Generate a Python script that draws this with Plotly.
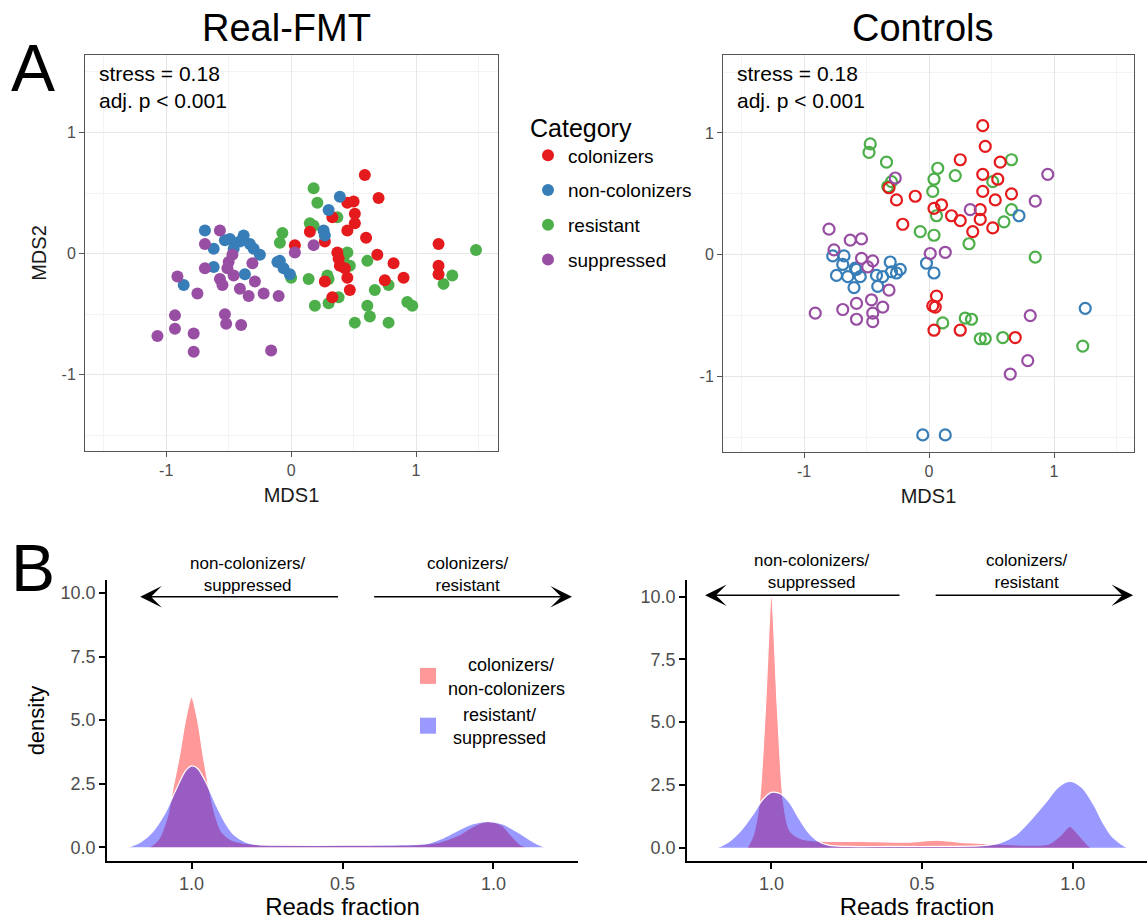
import plotly.graph_objects as go

# ---------------- DATA ----------------
categories = ["colonizers", "non-colonizers", "resistant", "suppressed"]
cat_colors = {"colonizers": "#E41A1C", "non-colonizers": "#377EB8",
              "resistant": "#4DAF4A", "suppressed": "#984EA3"}

# Real-FMT NMDS coordinates
fmt_col_x = [0.59, 0.70, 0.45, 0.50, 0.51, 0.51, 0.45, 0.33, 0.15, 0.03, 0.60, 0.37, 0.38, 0.39,
             0.69, 0.82, 0.45, 0.47, 0.27, 0.33, 0.75, 0.90, 1.18, 1.18, 1.18, 0.27, 0.43]
fmt_col_y = [0.65, 0.46, 0.42, 0.43, 0.33, 0.25, 0.19, 0.30, 0.18, 0.07, 0.13, 0.01, -0.04, -0.10,
             -0.01, -0.08, -0.20, -0.30, -0.23, -0.36, -0.22, -0.20, 0.08, -0.10, -0.17, 0.10, -0.12]
fmt_non_x = [-0.69, -0.86, -0.62, -0.62, -0.49, -0.41, -0.33, -0.25, -0.37, -0.09, -0.06, -0.01,
             0.27, 0.26, 0.30, 0.39, -0.46, -0.53, -0.30, -0.11, -0.38]
fmt_non_y = [0.19, -0.26, 0.04, -0.11, 0.12, 0.10, 0.08, -0.01, -0.17, -0.06, -0.12, -0.17,
             0.15, 0.19, 0.36, 0.47, 0.04, 0.11, 0.04, -0.07, 0.15]
fmt_res_x = [0.18, 0.21, 0.15, 0.18, -0.07, -0.09, 0.00, 0.14, 0.29, 0.30, 0.19, 0.30, 0.38, 0.45,
             0.47, 0.61, 0.67, 0.78, 0.61, 0.63, 0.51, 0.78, 0.93, 0.97, 1.29, 1.22, 1.48, 0.37, 0.42]
fmt_res_y = [0.54, 0.42, 0.25, 0.23, 0.17, 0.09, -0.20, -0.21, -0.18, -0.21, -0.43, -0.41, -0.36, 0.01,
             -0.10, -0.06, -0.30, -0.26, -0.43, -0.52, -0.57, -0.57, -0.40, -0.43, -0.18, -0.25, 0.03, 0.30, -0.03]
fmt_sup_x = [-1.07, -0.93, -0.93, -0.78, -0.78, -0.91, -0.75, -0.53, -0.52, -0.40, -0.16, -0.69, -0.57,
             -0.69, -0.57, -0.55, -0.51, -0.47, -0.46, -0.41, -0.34, -0.29, -0.22, -0.10, -0.31, 0.03, 0.18, -0.50]
fmt_sup_y = [-0.68, -0.51, -0.62, -0.66, -0.81, -0.19, -0.33, -0.50, -0.58, -0.59, -0.80, 0.08, 0.19,
             -0.12, -0.21, -0.26, -0.12, -0.01, -0.18, -0.29, -0.35, -0.23, -0.33, -0.35, -0.08, 0.01, 0.07, -0.07]

# Controls NMDS coordinates
ctl_col_x = [0.43, 0.45, 0.25, 0.57, 0.55, 0.43, 0.43, 0.53, 0.66, 0.41, 0.41, 0.35, 0.51, 0.25,
             0.18, 0.10, 0.04, -0.11, -0.21, -0.26, -0.32, 0.05, 0.06, 0.03, 0.04, 0.25, 0.69]
ctl_col_y = [1.06, 0.89, 0.78, 0.76, 0.62, 0.66, 0.52, 0.45, 0.50, 0.37, 0.29, 0.19, 0.22, 0.28,
             0.32, 0.41, 0.38, 0.48, 0.25, 0.45, 0.55, -0.43, -0.34, -0.42, -0.62, -0.62, -0.68]
ctl_non_x = [-0.77, -0.68, -0.74, -0.69, -0.65, -0.59, -0.58, -0.55, -0.60, -0.41, -0.42, -0.37,
             -0.31, -0.30, -0.26, -0.23, -0.02, 0.04, 0.72, 1.25, -0.05, 0.13]
ctl_non_y = [-0.01, -0.01, -0.17, -0.08, -0.18, -0.11, -0.12, -0.18, -0.27, -0.26, -0.17, -0.18,
             -0.06, -0.14, -0.15, -0.12, -0.07, -0.15, 0.32, -0.44, -1.48, -1.48]
ctl_res_x = [-0.47, -0.48, -0.34, -0.30, -0.33, 0.07, 0.04, 0.03, 0.21, 0.06, -0.07, 0.04, 0.32,
             0.66, 0.51, 0.66, 0.60, 0.85, 0.11, 0.29, 0.34, 0.41, 0.45, 0.59, 1.23]
ctl_res_y = [0.91, 0.84, 0.76, 0.60, 0.56, 0.71, 0.62, 0.52, 0.65, 0.32, 0.19, 0.16, 0.09,
             0.78, 0.60, 0.37, 0.27, -0.02, -0.56, -0.52, -0.53, -0.69, -0.69, -0.68, -0.75]
ctl_sup_x = [-0.80, -0.63, -0.54, -0.76, -0.54, -0.45, -0.49, -0.32, -0.91, -0.69, -0.58, -0.46,
             -0.37, -0.45, -0.58, -0.45, -0.27, 0.01, 0.13, 0.33, 0.95, 0.85, 0.81, 0.79, 0.65]
ctl_sup_y = [0.21, 0.12, 0.13, 0.04, -0.03, -0.05, -0.10, -0.29, -0.48, -0.45, -0.40, -0.37,
             -0.43, -0.48, -0.53, -0.55, 0.63, 0.01, 0.02, 0.37, 0.66, 0.44, -0.50, -0.87, -0.98]

# Density of reads fraction
fmt_cn_x = [-0.14, -0.11, -0.08, -0.06, -0.04, -0.02, 0.00, 0.02, 0.04, 0.06, 0.08, 0.10, 0.13, 0.18,
            0.25, 0.40, 0.60, 0.75, 0.82, 0.88, 0.93, 0.97, 1.00, 1.03, 1.06, 1.09, 1.11]
fmt_cn_d = [0.0, 0.3, 1.2, 2.4, 3.6, 5.0, 5.9, 5.0, 3.5, 2.2, 1.2, 0.6, 0.3, 0.15,
            0.1, 0.1, 0.1, 0.1, 0.2, 0.45, 0.8, 1.0, 1.0, 0.85, 0.45, 0.1, 0.0]
fmt_rs_x = [-0.21, -0.17, -0.13, -0.09, -0.05, -0.02, 0.00, 0.02, 0.05, 0.08, 0.11, 0.14, 0.18, 0.22,
            0.30, 0.50, 0.70, 0.78, 0.83, 0.88, 0.93, 0.98, 1.03, 1.08, 1.12, 1.15, 1.17]
fmt_rs_d = [0.0, 0.2, 0.6, 1.3, 2.3, 3.0, 3.2, 3.1, 2.5, 1.7, 1.0, 0.5, 0.2, 0.1,
            0.08, 0.08, 0.1, 0.15, 0.35, 0.65, 0.92, 1.02, 0.92, 0.6, 0.3, 0.1, 0.0]
ctl_cn_x = [-0.08, -0.06, -0.04, -0.02, 0.00, 0.02, 0.04, 0.06, 0.09, 0.12, 0.20, 0.30, 0.45, 0.55,
            0.62, 0.75, 0.85, 0.92, 0.96, 0.99, 1.02, 1.05, 1.06]
ctl_cn_d = [0.0, 0.5, 1.8, 5.5, 10.0, 5.5, 1.8, 0.7, 0.4, 0.3, 0.25, 0.25, 0.22, 0.3,
            0.22, 0.15, 0.1, 0.15, 0.5, 0.85, 0.5, 0.1, 0.0]
ctl_rs_x = [-0.18, -0.14, -0.10, -0.06, -0.03, 0.00, 0.03, 0.06, 0.09, 0.12, 0.15, 0.19, 0.25, 0.40,
            0.60, 0.70, 0.76, 0.81, 0.86, 0.91, 0.95, 0.99, 1.03, 1.07, 1.10, 1.13, 1.16, 1.18]
ctl_rs_d = [0.0, 0.25, 0.7, 1.35, 1.9, 2.2, 2.15, 1.8, 1.2, 0.65, 0.3, 0.1, 0.05, 0.05,
            0.05, 0.08, 0.2, 0.5, 1.1, 1.8, 2.4, 2.65, 2.4, 1.7, 1.0, 0.45, 0.15, 0.0]

density_groups = ["colonizers/<br>non-colonizers", "resistant/<br>suppressed"]
density_legend = ["&nbsp;&nbsp;&nbsp;&nbsp;colonizers/<br>non-colonizers",
                  "&nbsp;&nbsp;&nbsp;resistant/<br>&nbsp;suppressed"]
density_fill = ["rgba(255,0,0,0.4)", "rgba(0,0,255,0.4)"]
frac_tickvals = [0, 0.5, 1]
frac_ticktext = ["1.0", "0.5", "1.0"]
dens_tickvals = [0, 2.5, 5, 7.5, 10]
dens_ticktext = ["0.0", "2.5", "5.0", "7.5", "10.0"]

FONT = "Liberation Sans, Arial, sans-serif"
W, H = 1147, 920

fig = go.Figure()

fmt = {"colonizers": (fmt_col_x, fmt_col_y), "non-colonizers": (fmt_non_x, fmt_non_y),
       "resistant": (fmt_res_x, fmt_res_y), "suppressed": (fmt_sup_x, fmt_sup_y)}
ctl = {"colonizers": (ctl_col_x, ctl_col_y), "non-colonizers": (ctl_non_x, ctl_non_y),
       "resistant": (ctl_res_x, ctl_res_y), "suppressed": (ctl_sup_x, ctl_sup_y)}

draw_order = ["resistant", "colonizers", "non-colonizers", "suppressed"]
for c in draw_order:
    x, y = fmt[c]
    fig.add_trace(go.Scatter(x=x, y=y, mode="markers", name=c, legendgroup=c,
                             legendrank=categories.index(c) + 1,
                             marker=dict(size=12, color=cat_colors[c], line=dict(width=0)),
                             xaxis="x", yaxis="y", legend="legend"))
for c in draw_order:
    x, y = ctl[c]
    fig.add_trace(go.Scatter(x=x, y=y, mode="markers", name=c, legendgroup=c, showlegend=False,
                             marker=dict(size=11, color=cat_colors[c], symbol="circle-open",
                                         line=dict(width=2.2, color=cat_colors[c])),
                             xaxis="x2", yaxis="y2"))

dens = [((fmt_cn_x, fmt_cn_d), (fmt_rs_x, fmt_rs_d), "x3", "y3"),
        ((ctl_cn_x, ctl_cn_d), (ctl_rs_x, ctl_rs_d), "x4", "y4")]
for a, b, xa, ya in dens:
    for i, (x, d) in enumerate([a, b]):
        fig.add_trace(go.Scatter(x=x, y=d, mode="lines", fill="tozeroy",
                                 fillcolor=density_fill[i], name=density_groups[i],
                                 line=dict(color="white", width=1.2, shape="spline", smoothing=0.8),
                                 showlegend=False, xaxis=xa, yaxis=ya))
# legend-only keys for the density fill colours
for i, g in enumerate(density_legend):
    fig.add_trace(go.Scatter(x=[None], y=[None], mode="markers", name=g, legend="legend2",
                             marker=dict(symbol="square", size=18, color=density_fill[i]),
                             xaxis="x3", yaxis="y3"))

def px(X):
    return X / W

def py(Y):
    return 1 - Y / H

grid_major = "#E6E6E6"
grid_minor = "#F3F3F3"
tickfont = dict(family=FONT, size=16, color="#4D4D4D")

def scatter_axis(rng, domain, anchor, title=None):
    d = dict(range=rng, domain=domain, anchor=anchor, tickvals=[-1, 0, 1],
             ticktext=["-1", "0", "1"], showgrid=True, gridcolor=grid_major, gridwidth=1,
             minor=dict(tickvals=[-1.5, -0.5, 0.5, 1.5], showgrid=True, gridcolor=grid_minor,
                        gridwidth=1, ticks=""),
             showline=True, mirror=True, linecolor="#555555", linewidth=1,
             ticks="outside", ticklen=5, tickcolor="#555555", tickfont=tickfont,
             zeroline=False)
    if title:
        d["title"] = dict(text=title, font=dict(family=FONT, size=20, color="#1A1A1A"), standoff=9)
    return d

def dens_axis_x(rng, domain, anchor):
    return dict(range=rng, domain=domain, anchor=anchor, tickvals=frac_tickvals,
                ticktext=frac_ticktext, showgrid=False, zeroline=False, showline=True,
                linecolor="black", linewidth=1.5, ticks="outside", ticklen=6, tickcolor="black",
                tickwidth=1.5, tickfont=dict(family=FONT, size=18, color="#4D4D4D"),
                title=dict(text="Reads fraction", font=dict(family=FONT, size=24, color="black"),
                           standoff=6))

def dens_axis_y(rng, domain, anchor, title=None):
    d = dict(range=rng, domain=domain, anchor=anchor, tickvals=dens_tickvals,
             ticktext=dens_ticktext, showgrid=False, zeroline=False, showline=True,
             linecolor="black", linewidth=1.5, ticks="outside", ticklen=6, tickcolor="black",
             tickwidth=1.5, tickfont=dict(family=FONT, size=18, color="#4D4D4D"))
    if title:
        d["title"] = dict(text=title, font=dict(family=FONT, size=22, color="black"), standoff=10)
    return d

fig.update_layout(
    width=W, height=H, margin=dict(l=0, r=0, t=0, b=0),
    paper_bgcolor="white", plot_bgcolor="white",
    font=dict(family=FONT, color="black"),
    xaxis=scatter_axis([-1.65, 1.656], [px(85), px(498)], "y", "MDS1"),
    yaxis=scatter_axis([-1.63, 1.64], [py(451), py(55)], "x", "MDS2"),
    xaxis2=scatter_axis([-1.648, 1.64], [px(723), px(1134)], "y2", "MDS1"),
    yaxis2=scatter_axis([-1.62, 1.64], [py(452), py(55)], "x2"),
    xaxis3=dens_axis_x([-0.28, 1.28], [px(107), px(578)], "y3"),
    yaxis3=dens_axis_y([-0.54, 10.51], [py(861), py(580)], "x3", "density"),
    xaxis4=dens_axis_x([-0.28, 1.246], [px(687), 1.0], "y4"),
    yaxis4=dens_axis_y([-0.53, 10.66], [py(861), py(580)], "x4"),
    legend=dict(x=px(528), y=py(104), xanchor="left", yanchor="top",
                title=dict(text="Category", font=dict(family=FONT, size=25, color="black")),
                font=dict(family=FONT, size=19, color="black"), bgcolor="rgba(0,0,0,0)",
                tracegroupgap=7, itemsizing="constant"),
    legend2=dict(x=px(408), y=py(646), xanchor="left", yanchor="top",
                 font=dict(family=FONT, size=18, color="black"), bgcolor="rgba(0,0,0,0)",
                 tracegroupgap=4),
    showlegend=True,
)

def txt(X, Y, t, size, **kw):
    d = dict(x=px(X), y=py(Y), xref="paper", yref="paper", xanchor="center", yanchor="middle",
             showarrow=False, text=t, font=dict(family=FONT, size=size, color="black"))
    d.update(kw)
    return d

ann = []
for X in (97, 735):
    ann.append(txt(X, 60, "stress = 0.18<br>adj. p &lt; 0.001", 21, xanchor="left", yanchor="top",
                   align="left"))
ann.append(txt(286, 28, "Real-FMT", 38))
ann.append(txt(923, 28, "Controls", 38))
ann.append(txt(33, 68, "A", 66))
ann.append(txt(33, 568, "B", 66))
# arrows and labels
arrows = [("x3", "y3", 0.49, -0.17, 0.60, 1.26, 9.85),
          ("x4", "y4", 0.43, -0.22, 0.54, 1.20, 10.05)]
for xa, ya, t1, h1, t2, h2, yy in arrows:
    for tail, head in ((t1, h1), (t2, h2)):
        ann.append(dict(x=head, y=yy, ax=tail, ay=yy, xref=xa, yref=ya, axref=xa, ayref=ya,
                        text="", showarrow=True, arrowhead=3, arrowsize=2.4, arrowwidth=1.5,
                        arrowcolor="black"))
for X, Y, t in ((248, 574, "non-colonizers/<br>suppressed"), (468, 574, "colonizers/<br>resistant"),
                (812, 571, "non-colonizers/<br>suppressed"), (1027, 571, "colonizers/<br>resistant")):
    ann.append(txt(X, Y, t, 17))
fig.update_layout(annotations=ann)

fig.write_html("out.html")
